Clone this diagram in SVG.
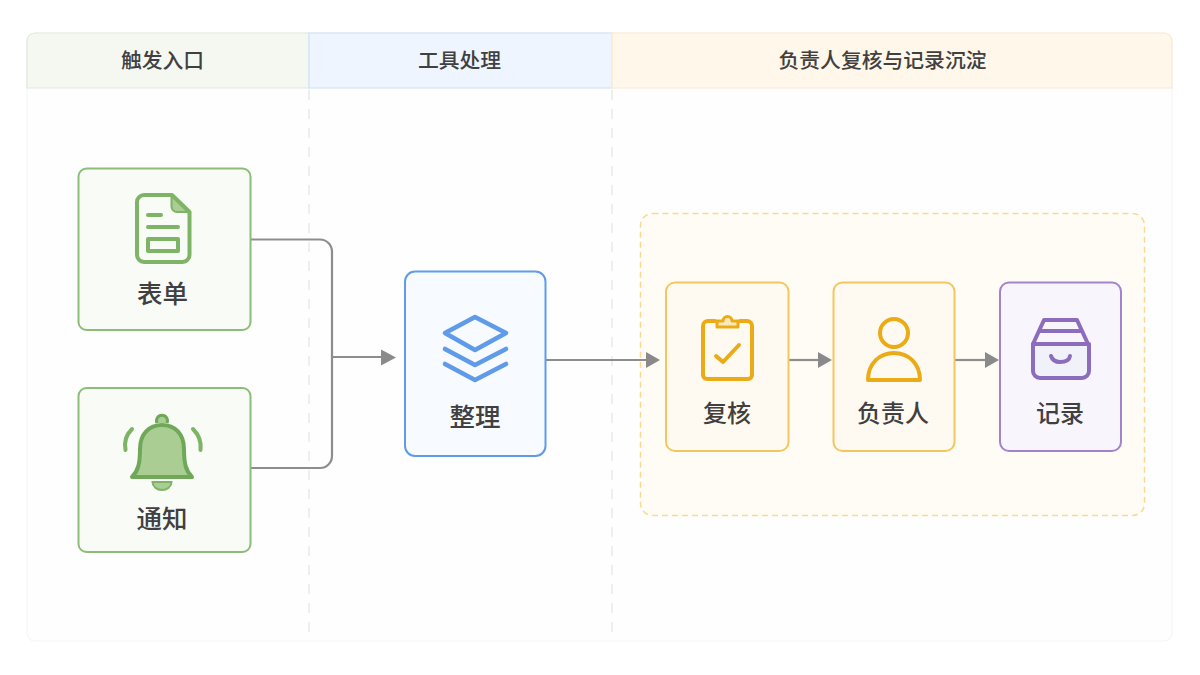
<svg xmlns="http://www.w3.org/2000/svg" width="1200" height="675" viewBox="0 0 1200 675">
<style>
text{font-family:"Noto Sans CJK SC","Liberation Sans",sans-serif;fill:#404040;text-anchor:middle}
.h{font-size:20.800px;font-weight:500}
.n{font-size:25.500px;font-weight:500}
.s{font-size:24px;font-weight:500}
.div{fill:none;stroke:#e6eae6;stroke-width:1.5;stroke-dasharray:10 9}
.c{fill:none;stroke:#8d8d8d;stroke-width:2.200}
.ar{fill:#8a8a8a}
.green{fill:#f9fbf7;stroke:#8cbd76;stroke-width:2}
.blue{fill:#f7faff;stroke:#5f9be9;stroke-width:2}
.yel{fill:#fffaf1;stroke:#f6c65e;stroke-width:2}
.pur{fill:#f8f5fd;stroke:#a283cc;stroke-width:2}
.ig{fill:none;stroke:#7db465;stroke-width:4;stroke-linecap:round;stroke-linejoin:round}
.ib{fill:none;stroke:#5f9be9;stroke-width:4.600;stroke-linecap:round;stroke-linejoin:round}
.iy{fill:none;stroke:#ebab16;stroke-width:4;stroke-linecap:round;stroke-linejoin:round}
.ip{fill:none;stroke:#8c6cbd;stroke-width:4;stroke-linecap:round;stroke-linejoin:round}
</style>
<rect width="1200" height="675" fill="#fff"/>
<g id="lanes">
<rect x="27" y="33" width="1145" height="608" rx="8" fill="#fefefe" stroke="#f3f5f3" stroke-width="1.200"/>
<path d="M27 88V41a8 8 0 0 1 8-8H309V88Z" fill="#f4f8f1" stroke="#e2eadd" stroke-width="1.200"/>
<rect x="309" y="33" width="303" height="55" fill="#eef5fe" stroke="#d5e3f5" stroke-width="1.200"/>
<path d="M612 33H1164a8 8 0 0 1 8 8V88H612Z" fill="#fef7ea" stroke="#f8ebd3" stroke-width="1.200"/>
<path class="div" d="M309 90V634M612 90V634"/>
<text class="h" x="162.500" y="68">触发入口</text>
<text class="h" x="459.500" y="68">工具处理</text>
<text class="h" x="882.500" y="68">负责人复核与记录沉淀</text>
</g>
<rect id="group-review" x="640.500" y="213.500" width="504" height="302" rx="12" fill="#fffcf6" stroke="#f9d98f" stroke-width="1.500" stroke-dasharray="6 4"/>
<g id="connectors">
<path class="c" d="M251 239.500H320a12 12 0 0 1 12 12V456a12 12 0 0 1-12 12H251"/>
<path class="c" d="M332 357H384"/>
<path class="ar" d="M381 349.500L396 357.500L381 365.500Z"/>
<path class="c" d="M546 360H648"/>
<path class="ar" d="M646 352L660 360L646 368Z"/>
<path class="c" d="M789 360H820"/>
<path class="ar" d="M818 352L832 360L818 368Z"/>
<path class="c" d="M955 360H986"/>
<path class="ar" d="M985 352L999 360L985 368Z"/>
</g>
<g id="node-form">
<rect class="green" x="78.500" y="168.500" width="172" height="161.500" rx="8"/>
<path d="M171.500 195L189 212H177a5.500 5.500 0 0 1-5.500-5.500Z" fill="#a9cd92" stroke="#7db465" stroke-width="2"/>
<path class="ig" d="M144 195H172L189.500 212V255a7 7 0 0 1-7 7H144a7 7 0 0 1-7-7V202a7 7 0 0 1 7-7Z"/>
<path class="ig" d="M148 215H161M148 227H178"/>
<rect class="ig" x="148" y="239" width="30" height="12"/>
<text class="n" x="162.500" y="303">表单</text>
</g>
<g id="node-notify">
<rect class="green" x="78.500" y="388" width="172" height="164" rx="8"/>
<path d="M152.500 482a9.500 8 0 0 0 19 0Z" fill="#a9cd92" stroke="#7db465" stroke-width="2"/>
<path d="M132 477C138 471 140 464 140 449C140 434 149 425 162 425C175 425 184 434 184 449C184 464 186 471 192 477Z" fill="#a9cd92" stroke="#70a859" stroke-width="4" stroke-linejoin="round"/>
<path d="M157 423a5.500 5.500 0 1 1 10 0" fill="#a9cd92" stroke="#70a859" stroke-width="3"/>
<path class="ig" d="M132 429Q123 438 125.500 450M193 429Q202 438 200.500 450"/>
<text class="n" x="162" y="528">通知</text>
</g>
<g id="node-tidy">
<rect class="blue" x="405" y="271.500" width="140.500" height="184.500" rx="10"/>
<path class="ib" d="M475 317L506 333L475 350L445 333Z"/>
<path class="ib" d="M445 349L475 365L506 349M445 364L475 380L506 364"/>
<text class="n" x="475" y="426">整理</text>
</g>
<g id="node-review">
<rect class="yel" x="666" y="282.500" width="122.500" height="168.500" rx="9"/>
<path class="iy" d="M715 321H708a5 5 0 0 0-5 5V375a4 4 0 0 0 4 4H748a4 4 0 0 0 4-4V326a5 5 0 0 0-5-5H740"/>
<path d="M717 327H738V321H732a4.500 4.500 0 0 0-9 0H717Z" fill="#fbe9bc" stroke="#ebab16" stroke-width="3" stroke-linejoin="round"/>
<path class="iy" d="M716 356L723 362L739 345"/>
<text class="s" x="727" y="422">复核</text>
</g>
<g id="node-owner">
<rect class="yel" x="833.500" y="282.500" width="121" height="168.500" rx="9"/>
<circle class="iy" cx="894" cy="333" r="14"/>
<path class="iy" d="M868 380C868 363 880 353 894 353C908 353 920 363 920 380Z"/>
<text class="s" x="893" y="422">负责人</text>
</g>
<g id="node-record">
<rect class="pur" x="1000" y="282.500" width="121" height="168.500" rx="9"/>
<path d="M1033 344H1089V371a7 7 0 0 1-7 7H1040a7 7 0 0 1-7-7Z" fill="#f1f1fa"/>
<path class="ip" d="M1033 344L1044 320H1077L1088 344M1041 331H1080"/>
<path class="ip" d="M1033 344H1089V371a7 7 0 0 1-7 7H1040a7 7 0 0 1-7-7Z"/>
<path class="ip" d="M1051 356Q1053 362 1060 362Q1069 362 1070 356" stroke-width="3.400"/>
<text class="s" x="1060" y="422">记录</text>
</g>
</svg>
